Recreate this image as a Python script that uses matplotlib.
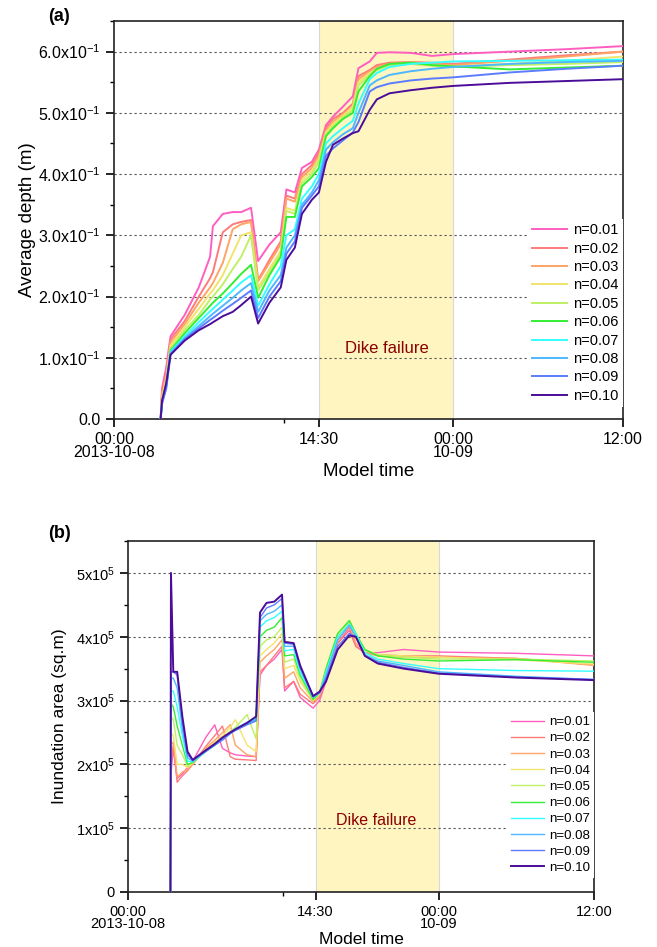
import numpy as np
import matplotlib
matplotlib.use('Agg')
import matplotlib.pyplot as plt
from matplotlib.ticker import FixedLocator, MultipleLocator

plt.rcParams['font.family'] = ['Liberation Sans', 'DejaVu Sans']
plt.rcParams['mathtext.fontset'] = 'custom'
plt.rcParams['mathtext.rm'] = 'Liberation Sans'

# Manning n values and colours
labels = ['n=0.01', 'n=0.02', 'n=0.03', 'n=0.04', 'n=0.05',
          'n=0.06', 'n=0.07', 'n=0.08', 'n=0.09', 'n=0.10']
colors = ['#FF5EC0', '#FF7A7A', '#FFA366', '#F2E36B', '#BFF066',
          '#33EE33', '#33FFFF', '#4DB8FF', '#5C7CFF', '#4B0D99']

# ---- panel (a): average depth (m), time in hours from 2013-10-08 00:00
t_depth = [3.3, 3.4, 3.7, 4.0, 5.0, 6.0, 6.8, 7.0, 7.7, 8.4, 9.0, 9.7, 10.2, 11.0,
           11.8, 12.2, 12.8, 13.3, 14.0, 14.5, 15.0, 15.5, 16.2, 16.9, 17.3, 18.1,
           18.6, 19.5, 21.0, 22.5, 24.0, 28.0, 32.0, 36.0]
depth_001 = [0, 0.05, 0.085, 0.135, 0.17, 0.215, 0.265, 0.315, 0.335, 0.338, 0.338, 0.345,
             0.258, 0.285, 0.305, 0.375, 0.37, 0.41, 0.42, 0.44, 0.48, 0.494, 0.51, 0.527,
             0.573, 0.584, 0.598, 0.599, 0.598, 0.593, 0.596, 0.6, 0.604, 0.609]
depth_002 = [0, 0.045, 0.075, 0.13, 0.16, 0.2, 0.23, 0.24, 0.305, 0.318, 0.322, 0.325,
             0.227, 0.26, 0.29, 0.365, 0.36, 0.4, 0.415, 0.435, 0.475, 0.49, 0.5, 0.515,
             0.56, 0.57, 0.578, 0.582, 0.583, 0.582, 0.58, 0.587, 0.594, 0.6]
depth_003 = [0, 0.04, 0.07, 0.125, 0.155, 0.19, 0.215, 0.222, 0.255, 0.31, 0.318, 0.322,
             0.225, 0.255, 0.285, 0.36, 0.355, 0.395, 0.41, 0.43, 0.47, 0.485, 0.498, 0.51,
             0.555, 0.568, 0.575, 0.58, 0.583, 0.58, 0.578, 0.585, 0.592, 0.6]
depth_004 = [0, 0.035, 0.065, 0.12, 0.15, 0.18, 0.205, 0.21, 0.235, 0.27, 0.3, 0.305,
             0.215, 0.245, 0.275, 0.345, 0.34, 0.39, 0.405, 0.425, 0.468, 0.482, 0.495, 0.51,
             0.55, 0.565, 0.572, 0.578, 0.58, 0.577, 0.576, 0.58, 0.585, 0.592]
depth_005 = [0, 0.03, 0.06, 0.115, 0.145, 0.17, 0.195, 0.2, 0.22, 0.245, 0.265, 0.3,
             0.21, 0.24, 0.27, 0.34, 0.335, 0.385, 0.4, 0.42, 0.465, 0.478, 0.492, 0.505,
             0.545, 0.562, 0.57, 0.578, 0.58, 0.578, 0.575, 0.578, 0.58, 0.583]
depth_006 = [0, 0.028, 0.057, 0.112, 0.14, 0.165, 0.185, 0.19, 0.205, 0.222, 0.237, 0.252,
             0.198, 0.235, 0.265, 0.33, 0.33, 0.38, 0.395, 0.41, 0.462, 0.475, 0.49, 0.5,
             0.535, 0.56, 0.572, 0.58, 0.582, 0.578, 0.576, 0.571, 0.574, 0.577]
depth_007 = [0, 0.026, 0.055, 0.11, 0.135, 0.158, 0.176, 0.18, 0.195, 0.21, 0.223, 0.235,
             0.185, 0.22, 0.25, 0.3, 0.31, 0.36, 0.38, 0.4, 0.45, 0.462, 0.475, 0.487,
             0.515, 0.555, 0.565, 0.575, 0.58, 0.582, 0.584, 0.585, 0.586, 0.587]
depth_008 = [0, 0.025, 0.053, 0.108, 0.132, 0.152, 0.168, 0.172, 0.185, 0.198, 0.21, 0.222,
             0.175, 0.21, 0.235, 0.28, 0.3, 0.35, 0.37, 0.39, 0.44, 0.452, 0.465, 0.475,
             0.5, 0.545, 0.553, 0.562, 0.568, 0.572, 0.575, 0.58, 0.583, 0.585]
depth_009 = [0, 0.026, 0.05, 0.105, 0.13, 0.148, 0.162, 0.165, 0.177, 0.188, 0.198, 0.21,
             0.165, 0.2, 0.225, 0.27, 0.29, 0.345, 0.365, 0.38, 0.43, 0.442, 0.455, 0.468,
             0.485, 0.535, 0.542, 0.548, 0.553, 0.556, 0.558, 0.566, 0.572, 0.577]
depth_010 = [0, 0.03, 0.059, 0.105, 0.128, 0.145, 0.155, 0.158, 0.168, 0.175, 0.186, 0.2,
             0.156, 0.19, 0.215, 0.26, 0.28, 0.335, 0.358, 0.37, 0.42, 0.448, 0.458, 0.467,
             0.47, 0.505, 0.522, 0.532, 0.537, 0.541, 0.544, 0.549, 0.552, 0.555]
depth_all = [depth_001, depth_002, depth_003, depth_004, depth_005,
             depth_006, depth_007, depth_008, depth_009, depth_010]

# ---- panel (b): inundation area, in units of 1e5 sq.m
t_area = [3.28, 3.32, 3.5, 3.8, 4.2, 4.6, 5.0, 6.0, 6.7, 7.3, 7.9, 8.3, 9.2, 9.9, 10.2,
          10.7, 11.3, 11.9, 12.1, 12.8, 13.3, 14.3, 14.8, 15.3, 16.2, 17.1, 17.6, 18.3,
          19.3, 21.3, 24.0, 30.0, 36.0]
area_001 = [0, 1.85, 2.25, 1.78, 1.85, 1.95, 2.05, 2.42, 2.62, 2.25, 2.18, 2.15, 2.13, 2.12,
            3.4, 3.55, 3.65, 3.8, 3.15, 3.3, 3.05, 2.88, 3.0, 3.3, 3.9, 4.1, 3.85, 3.75,
            3.75, 3.8, 3.76, 3.74, 3.7]
area_002 = [0, 2.05, 2.3, 1.72, 1.82, 1.9, 2.0, 2.28, 2.45, 2.6, 2.12, 2.08, 2.07, 2.06,
            3.45, 3.55, 3.7, 3.85, 3.2, 3.3, 3.1, 2.95, 3.05, 3.35, 3.9, 4.15, 3.85, 3.75,
            3.72, 3.7, 3.7, 3.66, 3.56]
area_003 = [0, 2.3, 2.35, 1.8, 1.88, 1.92, 2.0, 2.25, 2.38, 2.5, 2.62, 2.3, 2.15, 2.12,
            3.6, 3.7, 3.8, 3.95, 3.35, 3.45, 3.2, 2.98, 3.08, 3.4, 3.95, 4.2, 3.9, 3.75,
            3.7, 3.68, 3.68, 3.66, 3.55]
area_004 = [0, 2.5, 2.45, 2.0, 2.0, 1.95, 2.02, 2.23, 2.35, 2.45, 2.58, 2.7, 2.3, 2.2,
            3.7, 3.8, 3.9, 4.05, 3.5, 3.55, 3.3, 3.0, 3.1, 3.45, 4.0, 4.22, 4.0, 3.78,
            3.72, 3.7, 3.68, 3.64, 3.57]
area_005 = [0, 2.75, 2.7, 2.3, 2.15, 1.97, 2.03, 2.22, 2.32, 2.42, 2.52, 2.58, 2.78, 2.4,
            3.85, 3.95, 4.0, 4.15, 3.6, 3.65, 3.35, 3.0, 3.12, 3.5, 4.05, 4.26, 4.05, 3.8,
            3.72, 3.68, 3.65, 3.65, 3.62]
area_006 = [0, 2.95, 2.9, 2.6, 2.3, 2.0, 2.03, 2.2, 2.3, 2.4, 2.5, 2.55, 2.65, 2.7,
            4.0, 4.1, 4.15, 4.3, 3.7, 3.72, 3.4, 3.02, 3.12, 3.5, 4.05, 4.25, 4.05, 3.8,
            3.7, 3.65, 3.62, 3.64, 3.6]
area_007 = [0, 3.15, 3.15, 2.9, 2.45, 2.05, 2.04, 2.2, 2.3, 2.4, 2.5, 2.56, 2.66, 2.72,
            4.15, 4.25, 4.3, 4.4, 3.78, 3.8, 3.45, 3.05, 3.12, 3.45, 4.0, 4.2, 4.05, 3.75,
            3.65, 3.58, 3.5, 3.47, 3.46]
area_008 = [0, 3.35, 3.35, 3.2, 2.55, 2.1, 2.05, 2.21, 2.31, 2.4, 2.5, 2.55, 2.64, 2.7,
            4.25, 4.35, 4.4, 4.5, 3.85, 3.85, 3.5, 3.05, 3.12, 3.4, 3.95, 4.18, 4.0, 3.72,
            3.62, 3.55, 3.45, 3.38, 3.33]
area_009 = [0, 3.45, 3.45, 3.4, 2.65, 2.15, 2.06, 2.2, 2.3, 2.38, 2.48, 2.53, 2.62, 2.68,
            4.3, 4.45, 4.5, 4.6, 3.9, 3.88, 3.52, 3.07, 3.12, 3.35, 3.85, 4.05, 4.0, 3.7,
            3.6, 3.52, 3.43, 3.37, 3.33]
area_010 = [0, 5.0, 3.45, 3.45, 2.75, 2.2, 2.07, 2.22, 2.32, 2.42, 2.5, 2.55, 2.65, 2.75,
            4.38, 4.53, 4.55, 4.66, 3.92, 3.9, 3.55, 3.07, 3.14, 3.3, 3.8, 4.02, 4.0, 3.7,
            3.58, 3.5, 3.42, 3.36, 3.32]
area_all = [area_001, area_002, area_003, area_004, area_005,
            area_006, area_007, area_008, area_009, area_010]

x_ticks = [0, 14.5, 24, 36]
x_ticklabels = ['00:00\n2013-10-08', '14:30', '00:00\n10-09', '12:00']
depth_ticks = [0, 0.1, 0.2, 0.3, 0.4, 0.5, 0.6]
depth_ticklabels = ['0.0'] + [r'$\mathregular{%d.0x10^{-1}}$' % i for i in range(1, 7)]
area_ticks = [0, 1e5, 2e5, 3e5, 4e5, 5e5]
area_ticklabels = ['0'] + [r'$\mathregular{%dx10^{5}}$' % i for i in range(1, 6)]
dike_start, dike_end = 14.5, 24.0

fig = plt.figure(figsize=(6.57, 9.47), dpi=100)
ax1 = fig.add_axes([0.1735, 0.5575, 0.7743, 0.4203])
ax2 = fig.add_axes([0.1948, 0.0581, 0.7093, 0.3706])


def style_axis(ax, ymax, yticks, yticklabels, yminor, fs_tick):
    ax.axvspan(dike_start, dike_end, facecolor='#FFF5C0', edgecolor='#D8D8D8',
               linewidth=0.8, zorder=0)
    ax.set_xlim(0, 36)
    ax.set_ylim(0, ymax)
    ax.xaxis.set_major_locator(FixedLocator(x_ticks))
    ax.set_xticklabels(x_ticklabels, fontsize=fs_tick, linespacing=0.8)
    ax.xaxis.set_minor_locator(FixedLocator([12]))
    ax.yaxis.set_major_locator(FixedLocator(yticks))
    ax.set_yticklabels(yticklabels, fontsize=fs_tick)
    ax.yaxis.set_minor_locator(MultipleLocator(yminor))
    ax.tick_params(which='major', direction='out', length=6, width=1.2,
                   top=False, right=False)
    ax.tick_params(which='minor', direction='out', length=3, width=1.0,
                   top=False, right=False)
    for s in ax.spines.values():
        s.set_linewidth(1.2)
        s.set_color('#222222')
    for yv in yticks[1:]:
        ax.axhline(yv, color='#555555', linestyle=(0, (2, 2.5)), linewidth=0.8, zorder=1)


# panel (a)
style_axis(ax1, 0.65, depth_ticks, depth_ticklabels, 0.05, 11.5)
for vals, c, lab in zip(depth_all, colors, labels):
    ax1.plot(t_depth, vals, color=c, linewidth=1.4, label=lab, zorder=3)
ax1.set_xlabel('Model time', fontsize=13.5, labelpad=2)
ax1.set_ylabel('Average depth (m)', fontsize=13.5, labelpad=2)
ax1.text(19.3, 0.116, 'Dike failure', color='#8B0000', fontsize=12,
         ha='center', va='center')
leg1 = ax1.legend(loc='lower right', bbox_to_anchor=(1.0, 0.03), fontsize=10.5,
                  handlelength=2.4, handletextpad=0.4, labelspacing=0.3,
                  borderpad=0.3, borderaxespad=0.0, frameon=True, fancybox=False)
leg1.get_frame().set_edgecolor('none')
leg1.get_frame().set_facecolor('white')
leg1.get_frame().set_alpha(1)
fig.text(0.09, 0.983, '(a)', fontsize=13, fontweight='bold', ha='center', va='center')

# panel (b)
style_axis(ax2, 5.5e5, area_ticks, area_ticklabels, 0.5e5, 10.5)
for vals, c, lab in zip(area_all, colors, labels):
    lw = 1.4 if lab == 'n=0.10' else 1.0
    ax2.plot(t_area, np.array(vals) * 1e5, color=c, linewidth=lw, label=lab, zorder=3)
ax2.set_xlabel('Model time', fontsize=12.5, labelpad=1)
ax2.set_ylabel('Inundation area (sq.m)', fontsize=12.5, labelpad=6)
ax2.text(19.2, 1.12e5, 'Dike failure', color='#8B0000', fontsize=11.5,
         ha='center', va='center')
leg2 = ax2.legend(loc='lower right', bbox_to_anchor=(1.0, 0.04), fontsize=9.5,
                  handlelength=2.5, handletextpad=0.35, labelspacing=0.3,
                  borderpad=0.3, borderaxespad=0.0, frameon=True, fancybox=False)
leg2.get_frame().set_edgecolor('none')
leg2.get_frame().set_facecolor('white')
leg2.get_frame().set_alpha(1)
fig.text(0.09, 0.437, '(b)', fontsize=13, fontweight='bold', ha='center', va='center')

fig.savefig('out.png', dpi=100)
